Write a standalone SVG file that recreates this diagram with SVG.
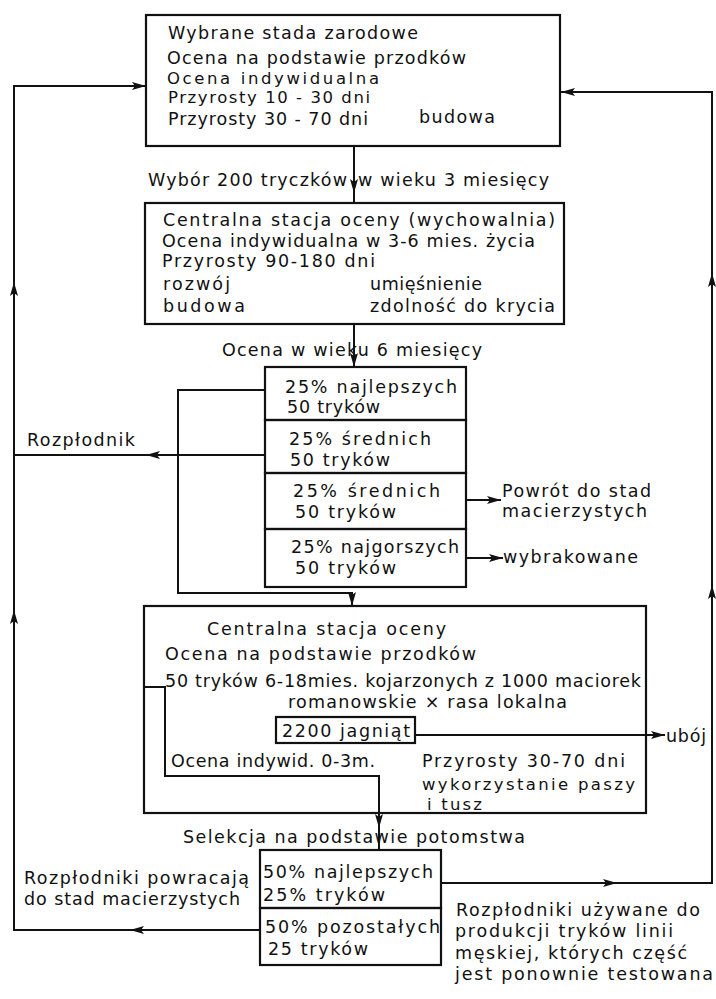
<svg xmlns="http://www.w3.org/2000/svg" width="716" height="999" viewBox="0 0 716 999">
<defs>
<style>
.box{fill:none;stroke:#111;stroke-width:2.2}
.ln{fill:none;stroke:#111;stroke-width:2}
.arr{marker-end:url(#ah)}
text{font-family:"DejaVu Sans","Liberation Sans",sans-serif;font-size:17.5px;fill:#111}
.t{font-size:16.5px}
</style>
<marker id="ah" viewBox="0 0 14 8" refX="14" refY="4" markerWidth="14" markerHeight="8" markerUnits="userSpaceOnUse" orient="auto">
<path d="M0,0 L14,4 L0,8 L3,4 z" fill="#111"/>
</marker>
</defs>
<rect width="716" height="999" fill="#fff"/>

<g id="connectors">
<path class="ln arr" d="M354,146 L354,193"/>
<path class="ln" d="M354,192 L354,204"/>
<path class="ln arr" d="M354,324 L354,367"/>
<path class="ln arr" d="M265,390 L178,390 L178,593 L352,593 L352,606"/>
<path class="ln arr" d="M265,455 L146,455"/>
<path class="ln" d="M147,455 L14,455"/>
<path class="ln arr" d="M466,500 L501,500"/>
<path class="ln arr" d="M466,558 L503,558"/>
<path class="ln arr" d="M144,687 L165,687 L165,776 L379,776 L379,828"/>
<path class="ln" d="M379,826 L379,850"/>
<path class="ln arr" d="M415,735 L665,735"/>
<path class="ln arr" d="M441,883 L617,883"/>
<path class="ln arr" d="M615,883 L712,883 L712,585"/>
<path class="ln arr" d="M712,587 L712,273"/>
<path class="ln arr" d="M712,275 L712,92 L561,92"/>
<path class="ln arr" d="M260,930 L130,930"/>
<path class="ln arr" d="M131,930 L14,930 L14,610"/>
<path class="ln arr" d="M14,612 L14,282"/>
<path class="ln arr" d="M14,284 L14,86 L146,86"/>
</g>

<g id="node-stada">
<rect class="box" x="146" y="15" width="414" height="131"/>
<text x="168" y="39" textLength="250">Wybrane stada zarodowe</text>
<text x="167" y="64" textLength="299">Ocena na podstawie przodków</text>
<text class="t" x="167" y="84" textLength="212">Ocena indywidualna</text>
<text class="t" x="168" y="103" textLength="202">Przyrosty 10 - 30 dni</text>
<text x="168" y="125" textLength="200">Przyrosty 30 - 70 dni</text>
<text x="419" y="123" textLength="76">budowa</text>
</g>

<g id="label-wybor">
<text x="148" y="186" textLength="199">Wybór 200 tryczków</text>
<text x="358" y="186" textLength="191">w wieku 3 miesięcy</text>
</g>

<g id="node-wychowalnia">
<rect class="box" x="145" y="203" width="419" height="121"/>
<text x="163" y="226" textLength="392">Centralna stacja oceny (wychowalnia)</text>
<text x="162" y="247" textLength="373">Ocena indywidualna w 3-6 mies. życia</text>
<text x="162" y="267" textLength="213">Przyrosty 90-180 dni</text>
<text x="163" y="290" textLength="67">rozwój</text>
<text x="370" y="290" textLength="112">umięśnienie</text>
<text x="163" y="312" textLength="82">budowa</text>
<text x="370" y="312" textLength="185">zdolność do krycia</text>
</g>

<g id="label-ocena6">
<text x="222" y="356" textLength="260">Ocena w wieku 6 miesięcy</text>
</g>

<g id="node-stack1">
<rect class="box" x="265" y="367" width="201" height="53"/>
<text x="285" y="393" textLength="172">25% najlepszych</text>
<text x="287" y="413" textLength="93">50 tryków</text>
<rect class="box" x="265" y="420" width="201" height="53"/>
<text x="289" y="445" textLength="142">25% średnich</text>
<text x="290" y="466" textLength="100">50 tryków</text>
<rect class="box" x="265" y="473" width="201" height="56"/>
<text x="293" y="497" textLength="147">25% średnich</text>
<text x="295" y="518" textLength="101">50 tryków</text>
<rect class="box" x="265" y="529" width="201" height="58"/>
<text x="291" y="553" textLength="168">25% najgorszych</text>
<text x="295" y="574" textLength="101">50 tryków</text>
</g>

<g id="label-rozplodnik">
<text x="27" y="446" textLength="108">Rozpłodnik</text>
</g>
<g id="label-powrot">
<text x="502" y="497" textLength="149">Powrót do stad</text>
<text x="502" y="517" textLength="145">macierzystych</text>
</g>
<g id="label-wybrakowane">
<text x="503" y="563" textLength="135">wybrakowane</text>
</g>

<g id="node-stacja">
<rect class="box" x="144" y="606" width="502" height="207"/>
<text x="207" y="635" textLength="239">Centralna stacja oceny</text>
<text x="165" y="660" textLength="311">Ocena na podstawie przodków</text>
<text x="165" y="687" textLength="476">50 tryków 6-18mies. kojarzonych z 1000 maciorek</text>
<text x="288" y="708" textLength="279">romanowskie × rasa lokalna</text>
<text x="171" y="767" textLength="204">Ocena indywid. 0-3m.</text>
<text x="422" y="767" textLength="203">Przyrosty  30-70 dni</text>
<text class="t" x="422" y="790" textLength="213">wykorzystanie paszy</text>
<text class="t" x="427" y="810" textLength="55">i tusz</text>
</g>

<g id="node-jagniat">
<rect class="box" x="276" y="717" width="139" height="26"/>
<text x="282" y="737" textLength="128">2200 jagniąt</text>
</g>

<g id="label-uboj">
<text x="666" y="742" textLength="40">ubój</text>
</g>

<g id="label-selekcja">
<text x="183" y="843" textLength="342">Selekcja na podstawie potomstwa</text>
</g>

<g id="node-stack2">
<rect class="box" x="260" y="850" width="181" height="58"/>
<text x="263" y="878" textLength="170">50% najlepszych</text>
<text x="263" y="901" textLength="122">25% tryków</text>
<rect class="box" x="260" y="908" width="181" height="57"/>
<text x="265" y="933" textLength="175">50% pozostałych</text>
<text x="268" y="955" textLength="100">25 tryków</text>
</g>

<g id="label-powracaja">
<text x="24" y="884" textLength="225">Rozpłodniki powracają</text>
<text x="24" y="905" textLength="216">do stad macierzystych</text>
</g>

<g id="label-uzywane">
<text x="456" y="916" textLength="244">Rozpłodniki używane do</text>
<text x="455" y="937" textLength="218">produkcji tryków linii</text>
<text x="455" y="959" textLength="232">męskiej, których część</text>
<text x="455" y="980" textLength="258">jest ponownie testowana</text>
</g>
</svg>
